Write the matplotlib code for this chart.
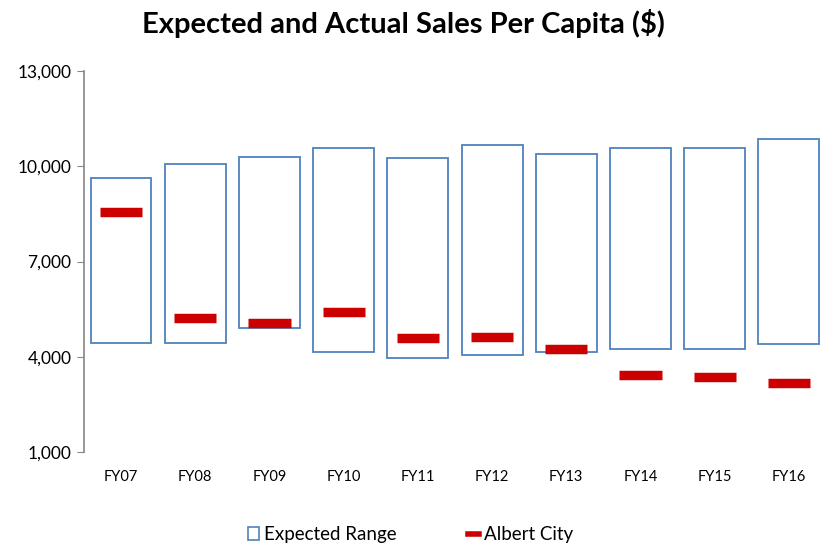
import matplotlib.pyplot as plt
from matplotlib.patches import Patch
from matplotlib.lines import Line2D
from matplotlib.ticker import FuncFormatter
import numpy as np

# ---------------------------------------------------------
# Data
# ---------------------------------------------------------
years = ["FY07", "FY08", "FY09", "FY10", "FY11", "FY12", "FY13", "FY14", "FY15", "FY16"]
expected_low = [4440, 4440, 4900, 4135, 3945, 4060, 4145, 4250, 4250, 4410]
expected_high = [9615, 10075, 10300, 10560, 10255, 10685, 10380, 10570, 10570, 10865]
albert_city = [8575, 5215, 5070, 5405, 4600, 4615, 4235, 3440, 3355, 3165]

plt.rcParams["font.family"] = ["Lato", "DejaVu Sans"]

blue = "#4f81bd"
red = "#cc0000"

# ---------------------------------------------------------
# Figure
# ---------------------------------------------------------
fig = plt.figure(figsize=(8.33, 5.48), dpi=100)
ax = fig.add_axes([0.1008, 0.1752, 0.8908, 0.6952])

x = np.arange(len(years))
low = np.array(expected_low)
high = np.array(expected_high)

# Expected range boxes
ax.bar(x, high - low, bottom=low, width=0.82, fill=False,
       edgecolor=blue, linewidth=1.3)

# Albert City markers
ax.hlines(albert_city, x - 0.285, x + 0.285, color=red, linewidth=6.8)

ax.set_xlim(-0.5, len(years) - 0.5)
ax.set_ylim(1000, 13000)
ax.set_yticks([1000, 4000, 7000, 10000, 13000])
ax.yaxis.set_major_formatter(FuncFormatter(lambda v, p: f"{int(v):,}"))
ax.set_xticks(x)
ax.set_xticklabels(years)

for s in ["top", "right", "bottom"]:
    ax.spines[s].set_visible(False)
ax.spines["left"].set_color("#868686")
ax.spines["left"].set_linewidth(1.2)

ax.tick_params(axis="y", length=5, color="#868686", labelsize=12.5, pad=4)
ax.tick_params(axis="x", length=0, labelsize=10.5, pad=13)

fig.text(0.484, 0.958, "Expected and Actual Sales Per Capita ($)",
         ha="center", va="center", fontsize=21, fontweight="bold")

handles = [
    Patch(facecolor="white", edgecolor=blue, linewidth=1.2, label="Expected Range"),
    Line2D([0], [0], color=red, linewidth=4, label="Albert City"),
]
fig.legend(handles=handles, loc="center", bbox_to_anchor=(0.493, 0.024),
           ncol=2, frameon=False, fontsize=13.5, handlelength=0.6,
           handletextpad=0.25, columnspacing=3.8)

plt.savefig("out.png", dpi=100)
